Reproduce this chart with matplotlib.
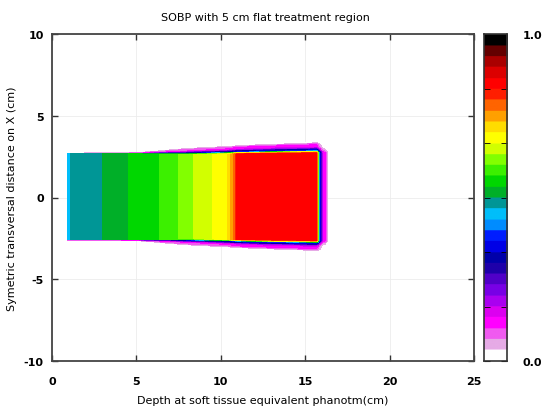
import numpy as np
import matplotlib
matplotlib.use("Agg")
import matplotlib.pyplot as plt
from matplotlib.colors import ListedColormap

plt.rcParams["axes.unicode_minus"] = False

# ---- colour scale (bottom 0.0 -> top 1.0), 30 bands ----
band_colors = [
    (255, 255, 255), (230, 170, 230), (240, 90, 240), (255, 0, 255), (220, 0, 240),
    (170, 0, 240), (120, 0, 230), (80, 0, 200), (30, 0, 170), (0, 0, 170),
    (0, 0, 230), (0, 30, 255), (0, 140, 255), (0, 190, 250), (0, 150, 150),
    (0, 175, 40), (0, 215, 0), (60, 240, 0), (130, 255, 0), (210, 255, 0),
    (255, 255, 0), (255, 220, 0), (255, 160, 0), (255, 100, 0), (255, 30, 0),
    (255, 0, 0), (220, 0, 0), (170, 0, 0), (100, 0, 0), (0, 0, 0),
]

# ---- depth-dose along the beam axis (relative dose) ----
depth_cm = [0.85, 1.0, 1.1, 2.9, 3.0, 4.4, 4.6, 6.3, 6.5, 7.4, 8.3, 8.5, 9.4,
            9.6, 10.4, 10.6, 10.8, 10.9, 13.0, 15.85]
dose_rel = [0.445, 0.455, 0.475, 0.495, 0.505, 0.53, 0.54, 0.565, 0.575, 0.598,
            0.63, 0.64, 0.665, 0.672, 0.70, 0.74, 0.79, 0.84, 0.855, 0.845]

# ---- lateral field size and penumbra spread along depth ----
width_depth = [0.85, 5.0, 8.0, 12.0, 16.0]
half_width = [2.67, 2.67, 2.70, 2.78, 2.85]
spread = [0.08, 0.12, 0.6, 0.85, 1.0]
field_center_y = 0.05
proximal_edge = 0.85
distal_edge = 15.85

# ---- penumbra profile (offset outside edge in cm at full spread, fraction of dose) ----
edge_offset = [-0.15, -0.06, 0.0, 0.07, 0.14, 0.22, 0.36, 0.46, 0.52]
edge_frac = [1.0, 0.8, 0.45, 0.38, 0.22, 0.16, 0.12, 0.06, 0.0]

xticks = [0, 5, 10, 15, 20, 25]
yticks = [-10, -5, 0, 5, 10]

cmap = ListedColormap([tuple(c / 255 for c in col) for col in band_colors])

# build dose map
xs = np.linspace(0, 25, 1251)
ys = np.linspace(-10, 10, 1001)
X, Y = np.meshgrid(xs, ys)
dose = np.interp(X, depth_cm, dose_rel)
hw = np.interp(X, width_depth, half_width)
sp = np.interp(X, width_depth, spread)
d_lat = np.abs(Y - field_center_y) - hw
f_lat = np.interp(d_lat / sp, edge_offset, edge_frac)
f_dist = np.interp(X - distal_edge, edge_offset, edge_frac)
f_prox = (X >= proximal_edge).astype(float)
Z = dose * f_lat * f_dist * f_prox
Z = np.ma.masked_less(Z, 0.015)

fig = plt.figure(figsize=(5.45, 4.1), dpi=100)
ax = fig.add_axes([52 / 545, 48 / 410, 422 / 545, 327 / 410])
ax.set_axisbelow(True)
ax.grid(True, color="#ececec", linewidth=0.6, linestyle="-")
ax.imshow(Z, extent=[0, 25, -10, 10], origin="lower", cmap=cmap, vmin=0, vmax=1,
          aspect="auto", interpolation="nearest", zorder=2)
ax.set_xlim(0, 25)
ax.set_ylim(-10, 10)
ax.set_xticks(xticks)
ax.set_yticks(yticks)
ax.tick_params(direction="in", length=4, width=1, top=True, right=True,
               labelsize=8, colors="#333333")
ax.tick_params(axis="x", pad=11)
ax.tick_params(axis="y", pad=6)
for lab in ax.get_xticklabels() + ax.get_yticklabels():
    lab.set_fontweight("bold")
    lab.set_color("black")
for s in ax.spines.values():
    s.set_color("#444444")
    s.set_linewidth(1.3)
ax.set_xlabel("Depth at soft tissue equivalent phanotm(cm)", fontsize=8, labelpad=6)
ax.set_ylabel("Symetric transversal distance on X (cm)", fontsize=8, labelpad=5)
fig.text(0.487, 0.955, "SOBP with 5 cm flat treatment region", ha="center", va="center", fontsize=8)

# colour bar
cax = fig.add_axes([484 / 545, 48 / 410, 23 / 545, 327 / 410])
grad = np.linspace(0, 1, 400).reshape(-1, 1)
cax.imshow(grad, extent=[0, 1, 0, 1], origin="lower", cmap=cmap, vmin=0, vmax=1,
           aspect="auto", interpolation="bilinear")
cax.set_xlim(0, 1)
cax.set_ylim(0, 1)
cax.set_xticks([])
cax.set_yticks([0, 1])
cax.set_yticklabels(["0.0", "1.0"])
cax.yaxis.tick_right()
cax.set_yticks([k / 6 for k in range(1, 6)], minor=True)
cax.tick_params(axis="y", which="both", direction="in", left=True, right=True,
                length=4, labelsize=8, pad=11)
for lab in cax.get_yticklabels():
    lab.set_fontweight("bold")
for s in cax.spines.values():
    s.set_color("#333333")
    s.set_linewidth(1.2)

fig.savefig("out.png", dpi=100)
